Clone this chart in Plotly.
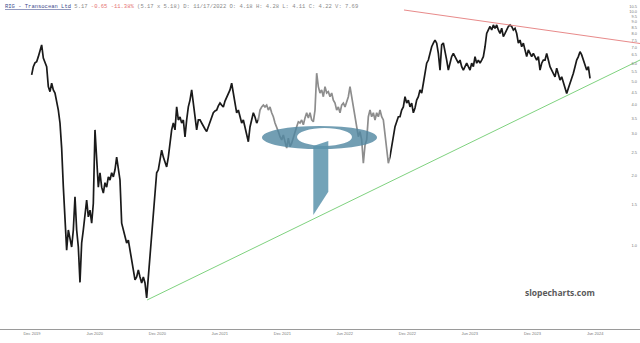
import base64
import math
import pandas as pd
import plotly.graph_objects as go

# ---------------- data ----------------
series_start = "2019-11-30"
series_step = "7007min"   # spacing between read samples
close_prices = [
    5.35, 5.80, 6.02, 6.09, 6.40, 6.83, 7.18, 6.31, 6.09, 5.80,
    4.77, 4.54, 4.93, 4.62, 4.48, 4.11, 3.79, 3.34, 2.61, 1.79,
    1.36, 0.96, 1.17, 1.09, 0.99, 1.17, 1.62, 1.17, 0.99, 0.70,
    1.03, 1.17, 1.38, 1.57, 1.33, 1.42, 1.25, 1.52, 3.12, 2.26,
    1.78, 2.05, 1.78, 1.68, 1.86, 1.78, 1.97, 1.91, 2.05, 1.97,
    2.11, 2.39, 2.17, 1.91, 1.25, 1.17, 1.09, 1.03, 1.06, 0.96,
    0.846, 0.790, 0.717, 0.738, 0.790, 0.738, 0.696, 0.738, 0.696, 0.601,
    0.738, 0.962, 1.09, 1.33, 1.73, 2.05, 2.11, 2.32, 2.56, 2.39,
    2.26, 2.17, 2.39, 2.74, 3.12, 3.34, 3.12, 3.91, 3.44, 3.54,
    3.34, 3.44, 2.91, 3.44, 3.91, 4.18, 4.62, 4.06, 3.54, 3.12,
    3.44,
    3.44, 3.34, 3.22, 3.15, 3.07, 3.21, 3.34, 3.51, 3.69, 3.76,
    3.79, 3.95, 4.06, 3.98, 3.91, 4.14, 4.32, 4.48, 4.62, 4.93,
    4.48, 4.06, 3.69, 3.79, 3.54, 3.34, 3.44, 3.21, 3.03, 2.78,
    3.21, 3.44, 3.69, 3.54, 3.34, 3.44, 3.79, 3.91, 3.98, 3.91,
    3.98, 3.79, 3.91, 3.69, 3.55, 3.34, 3.22, 3.07, 2.92, 2.83,
    2.97, 2.74, 2.61, 2.88, 2.65, 2.74, 2.92, 3.07, 3.22, 3.38,
    3.34, 3.44, 3.28, 3.51, 3.69, 3.51, 3.69, 3.44, 3.38, 3.79,
    5.44, 4.77, 4.48, 4.62, 4.32, 4.77, 4.48, 4.54, 4.32, 4.48,
    4.18, 4.06, 3.79, 3.91, 3.69, 3.98, 4.06, 3.91, 4.11, 4.32,
    4.77, 4.32, 3.79, 3.55, 3.22, 2.92, 3.07, 2.83, 2.25, 2.69,
    2.83, 3.55, 3.79, 3.55, 3.69, 3.44, 3.69, 3.55, 3.79, 3.55,
    3.44, 2.92, 2.56, 2.25, 2.40, 2.65, 2.83, 3.22, 3.38, 3.55,
    3.55, 3.79, 3.91, 4.32, 4.06, 4.18, 3.91, 4.06, 3.69, 3.87,
    4.18, 4.32, 4.62, 4.48, 4.93, 5.44, 6.00, 6.19, 6.61, 7.05,
    7.30, 7.53, 7.30, 6.61, 5.61, 7.18, 7.32, 6.83, 6.19, 5.61,
    6.00, 6.40, 6.61, 6.40, 6.19, 6.00, 6.19, 5.80, 5.61, 5.80,
    6.00, 5.80, 5.61, 6.00, 5.80, 6.40, 6.00, 6.19, 6.00, 6.19,
    6.40, 7.05, 8.03, 8.31, 8.60, 8.31, 8.73, 8.45, 8.73, 8.31,
    8.03, 8.45, 7.78, 8.03, 8.31, 8.60, 8.73, 8.60, 8.31, 8.45,
    8.03, 7.30, 7.53, 7.05, 7.30, 6.83, 6.40, 6.83, 6.61, 6.40,
    6.61, 6.40, 6.19, 6.40, 5.61, 6.00, 6.19, 6.19, 6.61, 6.19,
    5.80, 5.61, 5.44, 5.25, 5.71, 5.44, 5.09, 5.25, 4.93, 4.69,
    4.46, 4.69, 4.93, 5.09, 5.44, 5.80, 6.19, 6.40, 6.72, 6.51,
    6.19, 5.80, 5.61, 5.80, 5.17,
]
close_dates = pd.date_range(start=series_start, periods=len(close_prices), freq=series_step)

support_dates = ["2020-11-01", "2024-10-10"]
support_prices = [0.589, 6.19]
resist_dates = ["2022-11-21", "2024-10-10"]
resist_prices = [10.11, 7.28]

x_tick_dates = ["2019-12-01", "2020-06-01", "2020-12-01", "2021-06-01", "2021-12-01",
                "2022-06-01", "2022-12-01", "2023-06-01", "2023-12-01", "2024-06-01"]
x_tick_labels = ["Dec 2019", "Jun 2020", "Dec 2020", "Jun 2021", "Dec 2021",
                 "Jun 2022", "Dec 2022", "Jun 2023", "Dec 2023", "Jun 2024"]
y_tick_values = [1.0, 1.5, 2.0, 2.5, 3.0, 3.5, 4.0, 4.5, 5.0, 5.5, 6.0, 6.5,
                 7.0, 7.5, 8.0, 8.5, 9.0, 9.5, 10.0, 10.5]
y_tick_labels = [f"{v:.1f}" for v in y_tick_values]

header_html = (
    '<span style="color:#3d4a8c"><u>RIG - Transocean Ltd</u></span> '
    '<span style="color:#8a8a8a">5.17</span> '
    '<span style="color:#e57373">-0.65 -11.38%</span> '
    '<span style="color:#8a8a8a">(5.17 x 5.18) D: 11/17/2022 O: 4.18 H: 4.28 '
    'L: 4.11 C: 4.22 V: 7.69</span>'
)

# ---------------- figure ----------------
W, H = 640, 343
PLOT_H = 329

fig = go.Figure()
fig.add_trace(go.Scatter(x=close_dates, y=close_prices, mode="lines",
                         line=dict(color="#1a1a1a", width=1.7), hoverinfo="skip"))
fig.add_trace(go.Scatter(x=support_dates, y=support_prices, mode="lines",
                         line=dict(color="#7fd27f", width=1), hoverinfo="skip"))
fig.add_trace(go.Scatter(x=resist_dates, y=resist_prices, mode="lines",
                         line=dict(color="#e88a8a", width=1), hoverinfo="skip"))

# watermark logo (semi-transparent, drawn above the traces)
logo_svg = (
    '<svg xmlns="http://www.w3.org/2000/svg" width="132" height="150" '
    'viewBox="0 0 132 150" preserveAspectRatio="none">'
    '<rect x="0" y="0" width="132" height="102" fill="#ffffff" fill-opacity="0.5"/>'
    '<path fill-rule="evenodd" fill="#4f86a0" fill-opacity="0.8" '
    'd="M 4 69.5 A 57.5 11.5 0 1 0 119 69.5 A 57.5 11.5 0 1 0 4 69.5 Z '
    'M 39 69 A 27.5 9 0 1 0 94 69 A 27.5 9 0 1 0 39 69 Z"/>'
    '<polygon points="55.3,78 70.3,73 70.3,123.7 55.3,147" fill="#5b93ab" fill-opacity="0.85"/>'
    '</svg>'
)
logo_src = "data:image/svg+xml;base64," + base64.b64encode(logo_svg.encode()).decode()
fig.add_layout_image(dict(source=logo_src, xref="paper", yref="paper",
                          x=258 / W, y=1 - 68 / PLOT_H, sizex=132 / W, sizey=150 / PLOT_H,
                          xanchor="left", yanchor="top", sizing="stretch", layer="above"))

fig.add_annotation(text=header_html, xref="paper", yref="paper", x=0.004, y=1,
                   xanchor="left", yanchor="top", yshift=-1, showarrow=False,
                   font=dict(family="Liberation Mono", size=5.5, color="#8a8a8a"))
fig.add_annotation(text="<b>slopecharts.com</b>", xref="paper", yref="paper",
                   x=560 / W, y=1 - 292 / PLOT_H, xanchor="center", yanchor="middle",
                   showarrow=False, font=dict(family="Open Sans", size=8.5, color="#5a5a5a"))

y_lo = math.log10(0.4432)
y_hi = math.log10(11.15)

fig.update_layout(
    width=W, height=H,
    margin=dict(l=0, r=0, t=0, b=H - PLOT_H),
    paper_bgcolor="white", plot_bgcolor="white",
    showlegend=False,
    xaxis=dict(type="date", range=["2019-08-29 14:00", "2024-10-10"],
               tickvals=x_tick_dates, ticktext=x_tick_labels,
               showgrid=False, zeroline=False, showline=True,
               linecolor="#9a9a9a", linewidth=1, ticks="",
               tickfont=dict(family="Liberation Sans", size=4, color="#777777")),
    yaxis=dict(type="log", range=[y_lo, y_hi], side="right",
               tickvals=y_tick_values, ticktext=y_tick_labels,
               ticklabelposition="inside", showgrid=False, zeroline=False,
               showline=False, ticks="",
               tickfont=dict(family="Liberation Sans", size=4, color="#777777")),
)

fig.write_html("out.html")
